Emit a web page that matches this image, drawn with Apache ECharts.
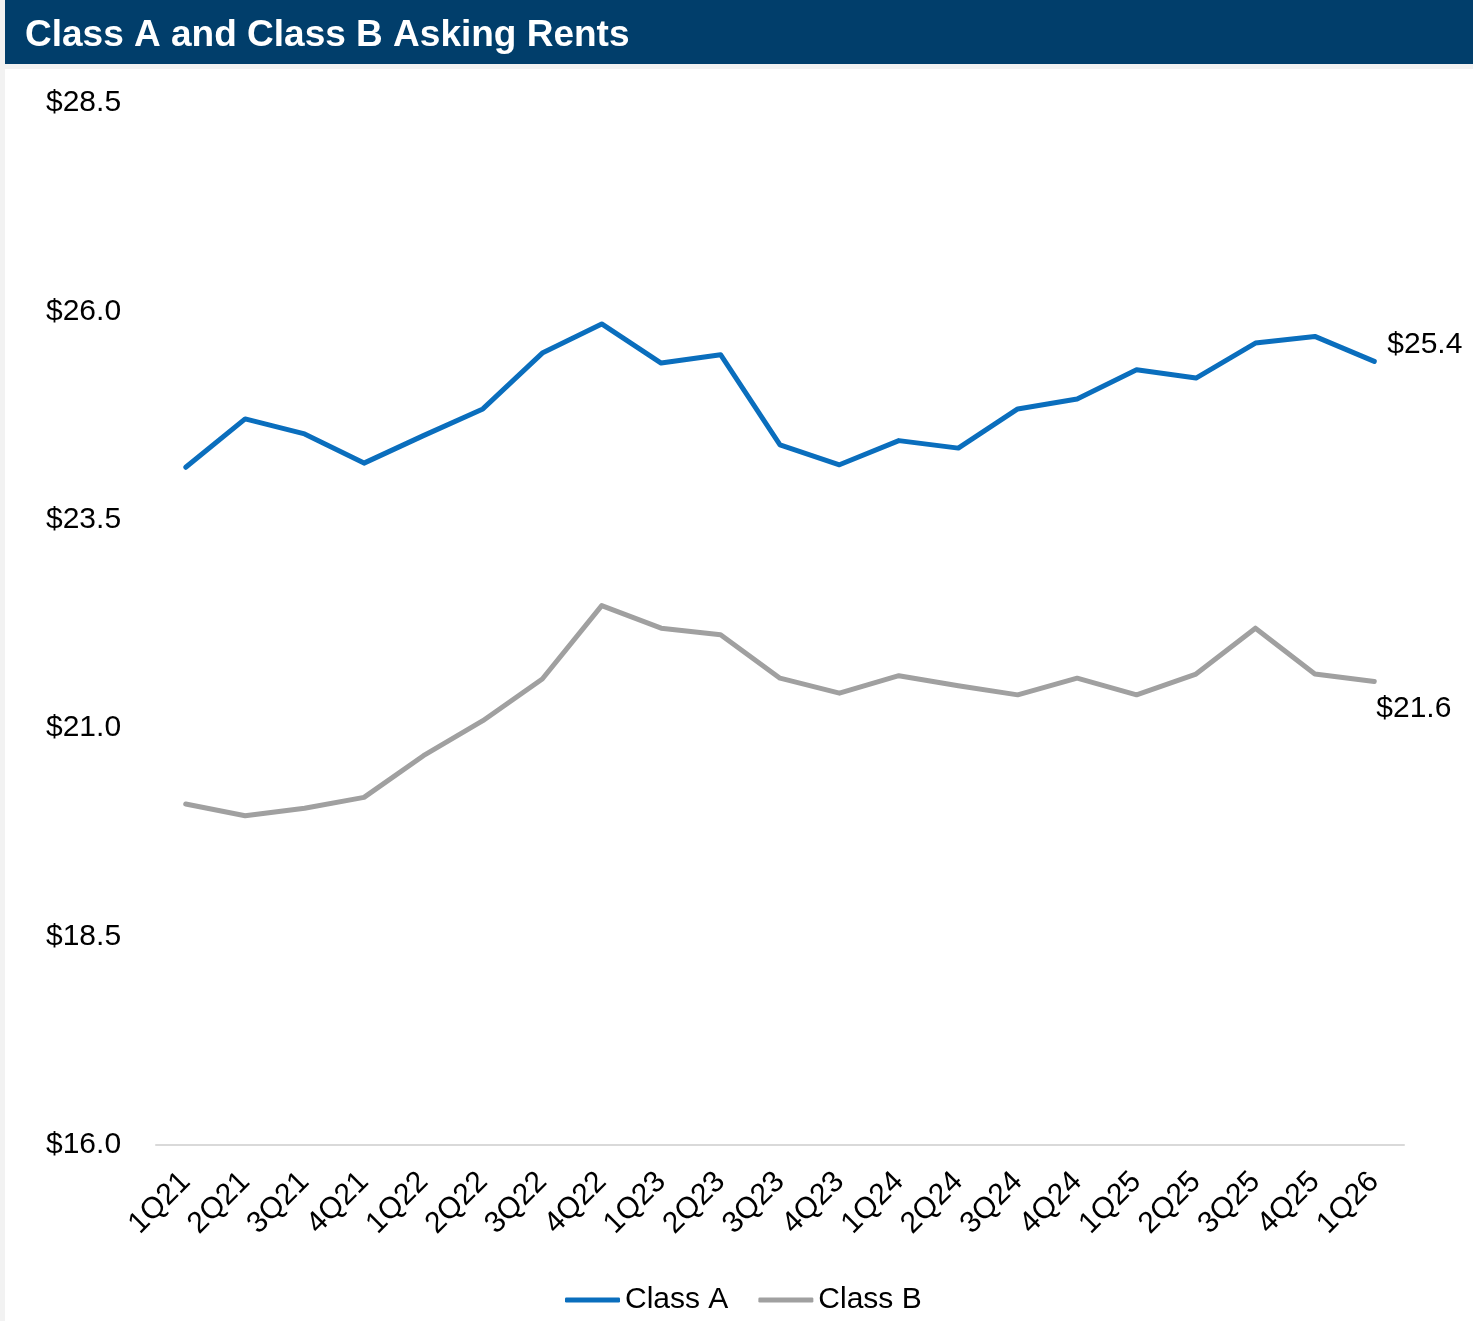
<!DOCTYPE html>
<html>
<head>
<meta charset="utf-8">
<script src="https://cdn.jsdelivr.net/npm/echarts@6/dist/echarts.min.js"></script>
<style>
    html, body { margin: 0; padding: 0; background: #f2f2f2; }
    #chart { width: 1473px; height: 1321px; }
</style>
</head>
<body>
<div id="chart"></div>
<script>
// quarters on the x axis
const quarters = ['1Q21', '2Q21', '3Q21', '4Q21', '1Q22', '2Q22', '3Q22', '4Q22', '1Q23', '2Q23', '3Q23',
    '4Q23', '1Q24', '2Q24', '3Q24', '4Q24', '1Q25', '2Q25', '3Q25', '4Q25', '1Q26']

// asking rents, $ per sq ft
const classA = [24.13, 24.71, 24.53, 24.18, 24.51, 24.83, 25.50, 25.85, 25.38, 25.48, 24.40,
    24.16, 24.45, 24.36, 24.83, 24.95, 25.30, 25.20, 25.62, 25.70, 25.40]
const classB = [20.09, 19.95, 20.04, 20.17, 20.67, 21.09, 21.59, 22.47, 22.20, 22.12, 21.60,
    21.42, 21.63, 21.51, 21.40, 21.60, 21.40, 21.65, 22.20, 21.65, 21.56]

const yMin = 16
const yMax = 28.5
const yStep = 2.5

let chart = echarts.init(document.getElementById('chart'))
chart.setOption({
    backgroundColor: '#f2f2f2',
    textStyle: {
        fontFamily: 'Liberation Sans, Arial, sans-serif'
    },
    graphic: [
        {
            type: 'rect',
            z: -10,
            shape: { x: 5, y: 0, width: 1468, height: 64 },
            style: { fill: '#013e6b' }
        },
        {
            type: 'rect',
            z: -10,
            shape: { x: 5, y: 69, width: 1468, height: 1252 },
            style: { fill: '#ffffff' }
        }
    ],
    title: {
        text: 'Class A and Class B Asking Rents',
        left: 25,
        top: 17,
        padding: 0,
        textStyle: {
            color: '#ffffff',
            fontSize: 37,
            fontWeight: 'bold',
            fontFamily: 'Liberation Sans, Arial, sans-serif'
        }
    },
    color: ['#0a6ebd', '#a0a0a0'],
    legend: {
        data: [
            { name: 'Class A', icon: 'roundRect' },
            { name: 'Class B', icon: 'roundRect' }
        ],
        left: 565,
        top: 1285,
        padding: 0,
        itemWidth: 55,
        itemHeight: 5,
        itemGap: 30,
        textStyle: {
            fontSize: 30,
            color: '#000000'
        }
    },
    grid: {
        left: 156,
        right: 69,
        top: 103,
        bottom: 176,
        containLabel: false
    },
    xAxis: {
        type: 'category',
        data: quarters,
        boundaryGap: true,
        axisLine: { lineStyle: { color: '#d9d9d9', width: 2 } },
        axisTick: { show: false },
        axisLabel: {
            rotate: 45,
            margin: 32,
            interval: 0,
            fontSize: 30,
            color: '#000000'
        }
    },
    yAxis: {
        type: 'value',
        min: yMin,
        max: yMax,
        interval: yStep,
        splitLine: { show: false },
        axisLine: { show: false },
        axisTick: { show: false },
        axisLabel: {
            align: 'left',
            margin: 110,
            fontSize: 30,
            color: '#000000',
            formatter: function (v) { return '$' + v.toFixed(1) }
        }
    },
    series: [
        {
            name: 'Class A',
            type: 'line',
            data: classA,
            symbol: 'none',
            lineStyle: { width: 5, cap: 'round', join: 'round' },
            endLabel: {
                show: true,
                distance: 0,
                offset: [13, -17],
                fontSize: 30,
                color: '#000000',
                formatter: function (p) { return '$' + p.value.toFixed(1) }
            }
        },
        {
            name: 'Class B',
            type: 'line',
            data: classB,
            symbol: 'none',
            lineStyle: { width: 5, cap: 'round', join: 'round' },
            endLabel: {
                show: true,
                distance: 0,
                offset: [2, 27],
                fontSize: 30,
                color: '#000000',
                formatter: function (p) { return '$' + p.value.toFixed(1) }
            }
        }
    ]
})
</script>
</body>
</html>
